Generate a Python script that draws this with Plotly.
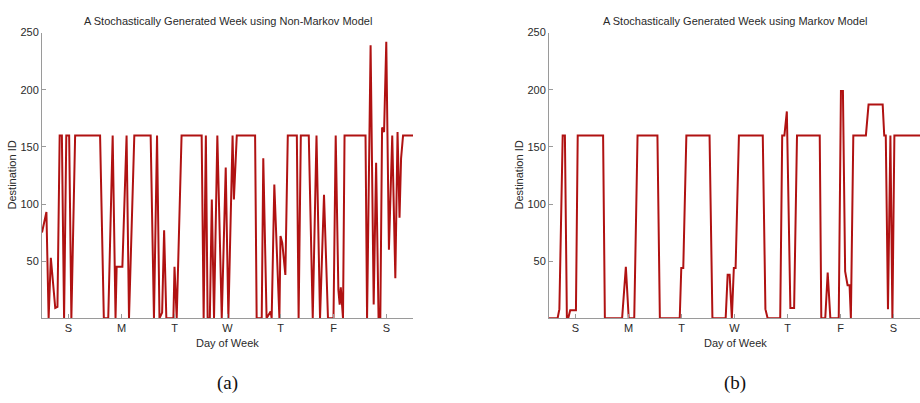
import plotly.graph_objects as go

# ---- data (hours since start of week, destination ID) ----
day_labels = ["S", "M", "T", "W", "T", "F", "S"]
day_tick_hours = [12, 36, 60, 84, 108, 132, 156]

nonmarkov_hours = [
    0, 2, 3, 4, 6, 7, 8, 9, 10, 11, 12.3, 13.3, 15, 26.3, 28, 30, 32, 33.3, 33.8, 36.4,
    38.3, 39.4, 41.8, 49.2, 50.7, 52.1, 53.2, 54.4, 55.3, 56.3, 59.5, 60, 61, 63.2, 72.3, 73.2,
    74.2, 75, 76, 76.9, 77.9, 79.4, 81.4, 83.2, 84.4, 86.3, 86.9, 88.2, 96.5, 97.2, 99.5, 100.2,
    101.7, 102.8, 103.5, 104, 105.2, 107.5, 108, 108.8, 110.2, 111.3, 115.4, 116.2, 117.2, 120.8,
    122.6, 124.3, 125.9, 127.7, 129.5, 132, 133, 134.2, 134.8, 135.3, 136.3, 137, 146.5, 147.2,
    148.8, 150.2, 151.3, 152.4, 153.2, 154, 154.9, 155.9, 157.1, 158.6, 160, 161, 161.9, 162.6,
    163.5, 168,
]
nonmarkov_ids = [
    75, 93, 0, 53, 9, 10, 160, 160, 0, 160, 160, 0, 160, 160, 0, 0, 160, 0, 45, 45,
    160, 0, 160, 160, 0, 160, 0, 5, 77, 0, 0, 45, 0, 160, 160, 0,
    160, 0, 0, 104, 0, 160, 0, 132, 0, 160, 104, 160, 160, 0, 0, 140,
    0, 3, 6, 0, 117, 0, 72, 66, 38, 160, 160, 0, 160, 160,
    0, 160, 0, 108, 0, 0, 160, 25, 12, 27, 0, 160, 160, 0,
    239, 12, 136, 0, 0, 167, 163, 242, 60, 160, 35, 163, 88, 140,
    160, 160,
]

markov_hours = [
    0, 3.9, 4.7, 6.2, 7.2, 8.1, 8.7, 9.6, 12.2, 13, 24.5, 25.3, 33.1, 34.8, 36.1, 38.6,
    40.1, 49.1, 50.2, 59.2, 59.9, 60.8, 62.2, 72.7, 74, 80, 80.9, 81.8, 82.8, 83.7, 84.5, 86,
    96.8, 98, 99, 104.7, 105.6, 106.6, 107.7, 109.3, 111, 112.3, 122.6, 123.3, 125.1, 126.2,
    127.4, 131.2, 132.2, 133.1, 134.1, 135.2, 136.1, 136.7, 137.8, 143.5, 144.7, 151.1, 151.8,
    152.5, 153.5, 154.6, 155.5, 156.4, 168,
]
markov_ids = [
    0, 0, 8, 160, 160, 0, 0, 7, 7, 160, 160, 0, 0, 45, 0, 0,
    160, 160, 0, 0, 44, 44, 160, 160, 0, 0, 38, 38, 0, 44, 44, 160,
    160, 8, 0, 0, 160, 160, 181, 9, 9, 160, 160, 0, 0, 40,
    0, 0, 199, 199, 41, 29, 29, 0, 160, 160, 187, 187, 160,
    160, 8, 160, 0, 160, 160,
]

titles = ["A Stochastically Generated Week using Non-Markov Model",
          "A Stochastically Generated Week using Markov Model"]
panel_tags = ["(a)", "(b)"]
y_ticks = [50, 100, 150, 200, 250]

W, H = 920, 403
LINE = "#b01212"
AXIS = "#9a9a9a"
TXT = "#2a2a2a"
SANS = "Liberation Sans, Arial, Helvetica, sans-serif"

# panel pixel extents
panels = [(42, 413), (549, 921)]
y_top, y_bot = 27, 317

fig = go.Figure()
fig.add_trace(go.Scatter(x=nonmarkov_hours, y=nonmarkov_ids, mode="lines",
                         line=dict(color=LINE, width=2), xaxis="x", yaxis="y",
                         showlegend=False, hoverinfo="skip"))
fig.add_trace(go.Scatter(x=markov_hours, y=markov_ids, mode="lines",
                         line=dict(color=LINE, width=2), xaxis="x2", yaxis="y2",
                         showlegend=False, hoverinfo="skip"))

def px2x(p):
    return p / W

def py2y(p):
    return 1 - p / H

ydom = [py2y(y_bot), py2y(y_top)]
common_x = dict(range=[0, 168], tickvals=day_tick_hours, ticktext=day_labels,
                showline=True, linecolor=AXIS, linewidth=1, ticks="inside",
                ticklen=4, tickcolor=AXIS, showgrid=False, zeroline=False,
                tickfont=dict(family=SANS, size=11, color=TXT))
common_y = dict(range=[0, 250], tickvals=y_ticks, showline=True, linecolor=AXIS,
                linewidth=1, ticks="inside", ticklen=4, tickcolor=AXIS,
                showgrid=False, zeroline=False,
                tickfont=dict(family=SANS, size=11, color=TXT), domain=ydom)

layout = dict(
    width=W, height=H, margin=dict(l=0, r=0, t=0, b=0),
    paper_bgcolor="white", plot_bgcolor="white",
    xaxis=dict(domain=[px2x(panels[0][0]), px2x(panels[0][1])], anchor="y", **common_x),
    yaxis=dict(anchor="x", **common_y),
    xaxis2=dict(domain=[px2x(panels[1][0]), min(1.0, px2x(panels[1][1]))], anchor="y2", **common_x),
    yaxis2=dict(anchor="x2", **common_y),
)
fig.update_layout(**layout)

ann = []
for i, (l, r) in enumerate(panels):
    cx = (l + r) / 2
    ann.append(dict(text=titles[i], x=px2x(cx), y=py2y(15), xref="paper", yref="paper",
                    showarrow=False, xanchor="center", yanchor="middle",
                    font=dict(family=SANS, size=11, color=TXT)))
    ann.append(dict(text="Day of Week", x=px2x(cx), y=py2y(342), xref="paper", yref="paper",
                    showarrow=False, xanchor="center", yanchor="middle",
                    font=dict(family=SANS, size=11, color=TXT)))
    ann.append(dict(text="Destination ID", x=px2x(l - 30), y=py2y((y_top + y_bot) / 2),
                    xref="paper", yref="paper", showarrow=False, textangle=-90,
                    xanchor="center", yanchor="middle",
                    font=dict(family=SANS, size=11, color=TXT)))
    ann.append(dict(text=panel_tags[i], x=px2x(cx), y=py2y(383), xref="paper", yref="paper",
                    showarrow=False, xanchor="center", yanchor="middle",
                    font=dict(family="Liberation Serif, Times New Roman, serif", size=19, color="#111")))
fig.update_layout(annotations=ann)

fig.write_html("out.html")
